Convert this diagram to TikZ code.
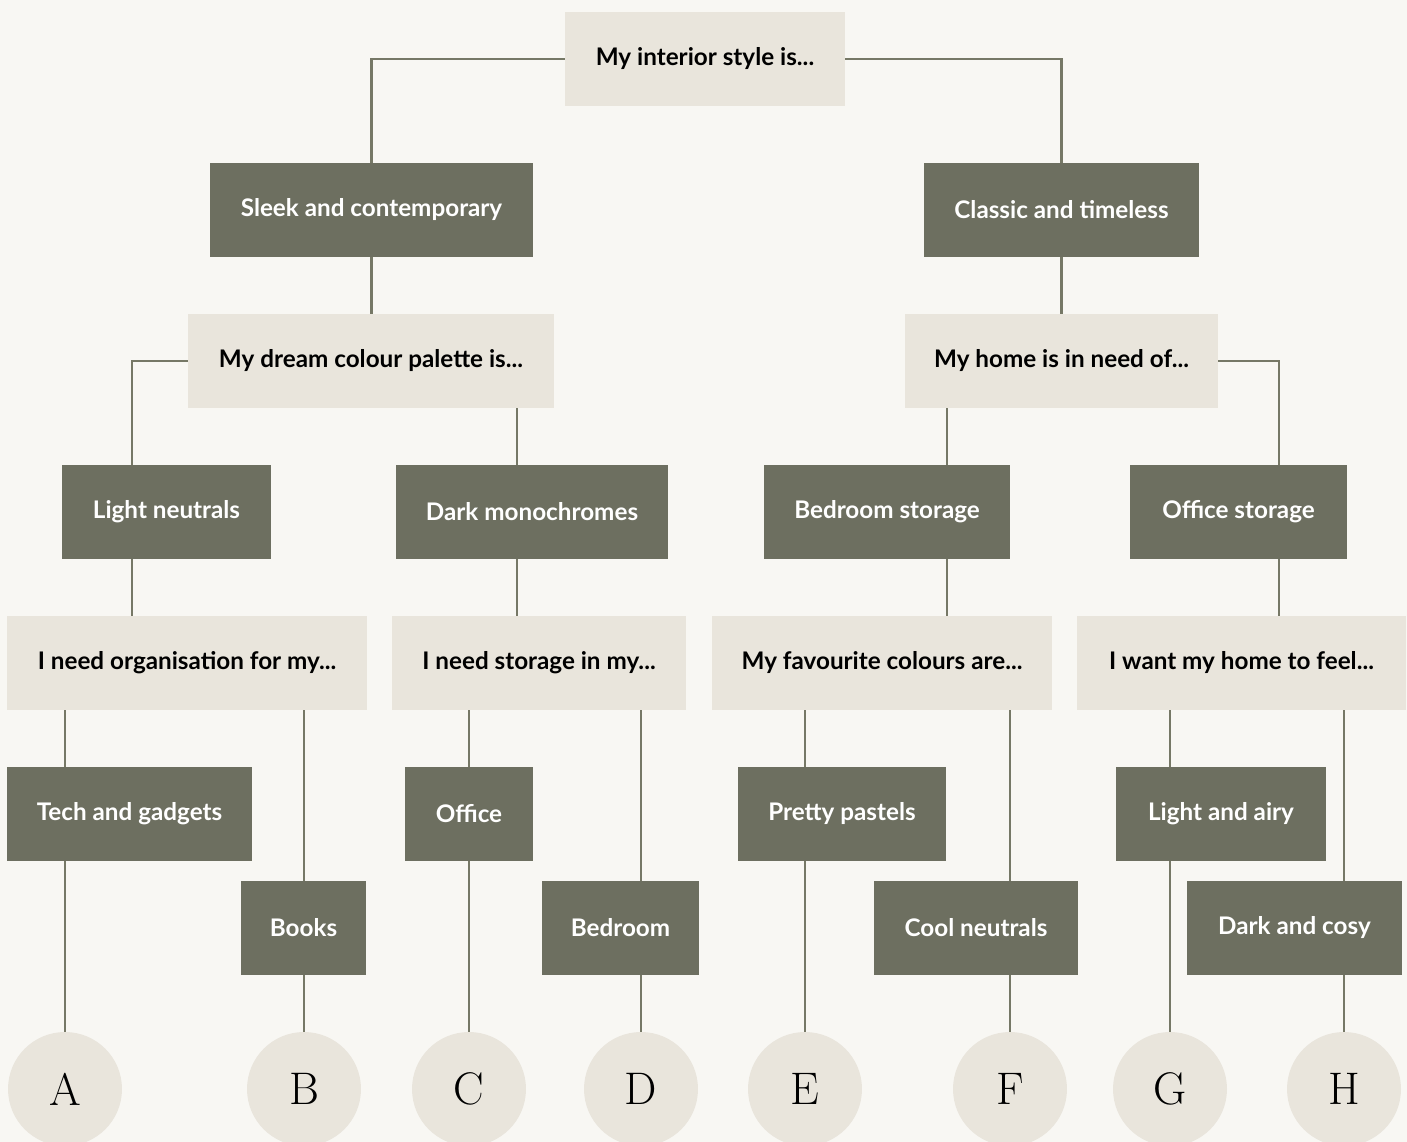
\documentclass[tikz,border=0pt]{standalone}
\usepackage{fontspec}
\setsansfont{Lato}
\usepackage{tikz}
\usetikzlibrary{positioning}
\definecolor{paper}{HTML}{F8F7F3}
\definecolor{sand}{HTML}{E9E5DC}
\definecolor{moss}{HTML}{6D6F60}
\definecolor{wire}{HTML}{767866}
\tikzset{>=latex}

\begin{document}
\begin{tikzpicture}[x=0.02cm, y=-0.02cm,
    ask/.style={fill=sand, text=black, inner sep=0pt, minimum height=1.88cm, font=\sffamily\bfseries\fontsize{13.8}{16}\selectfont},
    pick/.style={fill=moss, text=white, inner sep=0pt, minimum height=1.88cm, font=\sffamily\bfseries\fontsize{13.8}{16}\selectfont},
    result/.style={circle, fill=sand, inner sep=0pt, minimum size=2.28cm, font=\rmfamily\fontsize{26}{30}\selectfont},
    wire/.style={draw=wire, line width=1.3pt}]
		\fill[paper] (0,0) rectangle (1407,1142);
		\useasboundingbox (0,0) rectangle (1407,1142);
		% questions and answers
		\node[ask, minimum width=5.6cm] (style) at (705,59) {My interior style is...};
		\node[pick, minimum width=6.46cm] (sleek) at (371.5,210) {Sleek and contemporary};
		\node[pick, minimum width=5.5cm] (classic) at (1061.5,210) {Classic and timeless};
		\node[ask, minimum width=7.32cm] (palette) at (371,361) {My dream colour palette is...};
		\node[ask, minimum width=6.26cm] (need) at (1061.5,361) {My home is in need of...};
		\node[pick, minimum width=4.18cm] (light) at (166.5,512) {Light neutrals};
		\node[pick, minimum width=5.44cm] (dark) at (532,512) {Dark monochromes};
		\node[pick, minimum width=4.92cm] (bedstore) at (887,512) {Bedroom storage};
		\node[pick, minimum width=4.34cm] (offstore) at (1238.5,512) {Office storage};
		\node[ask, minimum width=7.2cm] (organise) at (187,663) {I need organisation for my...};
		\node[ask, minimum width=5.88cm] (storein) at (539,663) {I need storage in my...};
		\node[ask, minimum width=6.8cm] (colours) at (882,663) {My favourite colours are...};
		\node[ask, minimum width=6.58cm] (feel) at (1241.5,663) {I want my home to feel...};
		\node[pick, minimum width=4.9cm] (tech) at (129.5,814) {Tech and gadgets};
		\node[pick, minimum width=2.5cm] (books) at (303.5,928) {Books};
		\node[pick, minimum width=2.56cm] (office) at (469,814) {Office};
		\node[pick, minimum width=3.14cm] (bedroom) at (620.5,928) {Bedroom};
		\node[pick, minimum width=4.16cm] (pastels) at (842,814) {Pretty pastels};
		\node[pick, minimum width=4.08cm] (cool) at (976,928) {Cool neutrals};
		\node[pick, minimum width=4.2cm] (airy) at (1221,814) {Light and airy};
		\node[pick, minimum width=4.3cm] (cosy) at (1294.5,928) {Dark and cosy};
		% outcomes
		\node[result] (A) at (65,1089) {A};
		\node[result] (B) at (304,1089) {B};
		\node[result] (C) at (469,1089) {C};
		\node[result] (D) at (641,1089) {D};
		\node[result] (E) at (805,1089) {E};
		\node[result] (F) at (1010,1089) {F};
		\node[result] (G) at (1170,1089) {G};
		\node[result] (H) at (1344,1089) {H};
		% columns of the upper lines
		\coordinate (lcol) at (132,0);
		\coordinate (dcol) at (517,0);
		\coordinate (bcol) at (947,0);
		\coordinate (ocol) at (1279,0);
		\draw[wire] (style.west) -| (sleek.north);
		\draw[wire] (style.east) -| (classic.north);
		\draw[wire] (sleek.south) -- (sleek.south |- palette.north);
		\draw[wire] (classic.south) -- (classic.south |- need.north);
		\draw[wire] (palette.west) -| (lcol |- light.north);
		\draw[wire] (palette.south -| dcol) -- (dcol |- dark.north);
		\draw[wire] (need.south -| bcol) -- (bcol |- bedstore.north);
		\draw[wire] (need.east) -| (ocol |- offstore.north);
		\draw[wire] (light.south -| lcol) -- (lcol |- organise.north);
		\draw[wire] (dark.south -| dcol) -- (dcol |- storein.north);
		\draw[wire] (bedstore.south -| bcol) -- (bcol |- colours.north);
		\draw[wire] (offstore.south -| ocol) -- (ocol |- feel.north);
		% down to the outcomes
		\draw[wire] (organise.south -| A) -- (tech.north -| A);
		\draw[wire] (tech.south -| A) -- (A.north);
		\draw[wire] (organise.south -| B) -- (books.north -| B);
		\draw[wire] (books.south -| B) -- (B.north);
		\draw[wire] (storein.south -| C) -- (office.north -| C);
		\draw[wire] (office.south -| C) -- (C.north);
		\draw[wire] (storein.south -| D) -- (bedroom.north -| D);
		\draw[wire] (bedroom.south -| D) -- (D.north);
		\draw[wire] (colours.south -| E) -- (pastels.north -| E);
		\draw[wire] (pastels.south -| E) -- (E.north);
		\draw[wire] (colours.south -| F) -- (cool.north -| F);
		\draw[wire] (cool.south -| F) -- (F.north);
		\draw[wire] (feel.south -| G) -- (airy.north -| G);
		\draw[wire] (airy.south -| G) -- (G.north);
		\draw[wire] (feel.south -| H) -- (cosy.north -| H);
		\draw[wire] (cosy.south -| H) -- (H.north);
	\end{tikzpicture}
\end{document}
